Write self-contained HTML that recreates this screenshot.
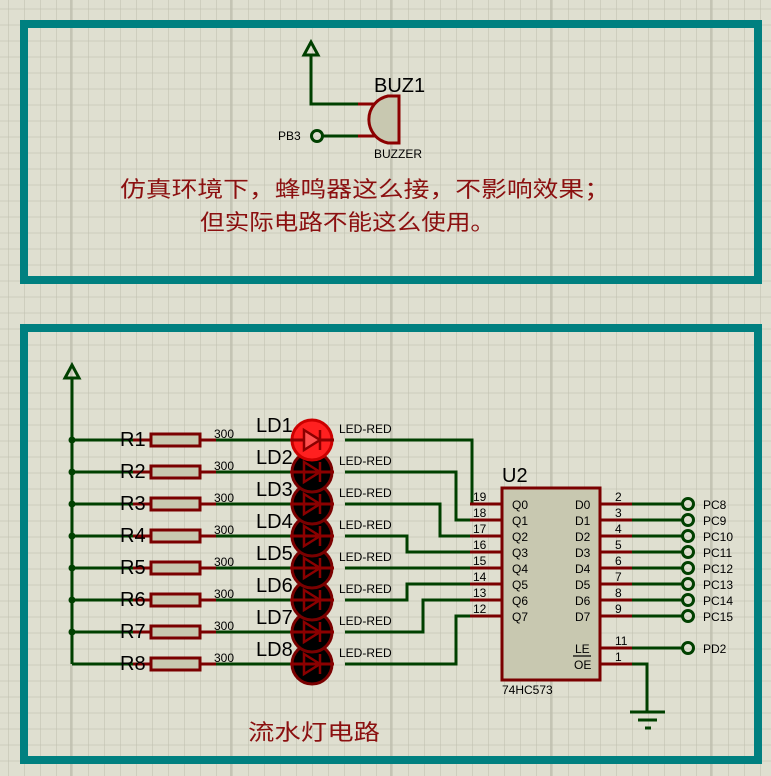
<!DOCTYPE html>
<html><head><meta charset="utf-8"><style>
html,body{margin:0;padding:0;background:#dfdfd0;}
svg{display:block;}
text{font-family:"Liberation Sans","Noto Sans CJK SC",sans-serif;}
</style></head><body>
<svg width="771" height="776" viewBox="0 0 771 776" xmlns="http://www.w3.org/2000/svg">
<defs>
<pattern id="g" x="8" y="8.7" width="16" height="16" patternUnits="userSpaceOnUse">
<path d="M0 0H16M0 0V16" stroke="#c2c2b2" stroke-width="1.2" fill="none"/>
</pattern>
<g id="led">
<circle r="20" fill="#000" stroke="#7a0000" stroke-width="3"/>
<line x1="-22" y1="0" x2="22" y2="0" stroke="#8b0000" stroke-width="3"/>
<path d="M-8 -10 L8 0 L-8 10 Z" fill="none" stroke="#8b0000" stroke-width="2.5"/>
<line x1="8" y1="-10" x2="8" y2="10" stroke="#8b0000" stroke-width="2.5"/>
</g>
</defs>
<rect width="771" height="776" fill="#dfdfd0"/>
<rect width="771" height="776" fill="url(#g)"/>
<g stroke="#bdbdad" stroke-width="1.6">
<line x1="71" y1="0" x2="71" y2="776"/><line x1="231" y1="0" x2="231" y2="776"/><line x1="391" y1="0" x2="391" y2="776"/><line x1="551" y1="0" x2="551" y2="776"/><line x1="711" y1="0" x2="711" y2="776"/>
</g>
<rect x="24" y="24" width="734" height="256" fill="none" stroke="#008080" stroke-width="8"/>
<rect x="24" y="328" width="734" height="432" fill="none" stroke="#008080" stroke-width="8"/>

<g fill="none" stroke="#004000" stroke-width="3">
<path d="M311 54 V104 H358"/>
<path d="M323 136 H358"/>
<path d="M304 55 L311 42 L318 55 Z"/>
</g>
<circle cx="317" cy="136" r="5.5" fill="none" stroke="#004000" stroke-width="3"/>
<g stroke="#8b0000" stroke-width="3" fill="none">
<path d="M358 104 H378 M358 136 H378"/>
<path d="M399 96 V143 H388 A24 24 0 0 1 388 96 Z" fill="#c8c8b0"/>
</g>
<text x="374" y="92" font-size="20">BUZ1</text>
<text x="374" y="158" font-size="12">BUZZER</text>
<text x="278" y="140" font-size="12">PB3</text>
<text x="120" y="197" font-size="22" fill="#8b1010" textLength="490" lengthAdjust="spacingAndGlyphs">仿真环境下，蜂鸣器这么接，不影响效果；</text>
<text x="200" y="230" font-size="22" fill="#8b1010" textLength="295" lengthAdjust="spacingAndGlyphs">但实际电路不能这么使用。</text>

<g fill="none" stroke="#004000" stroke-width="3">
<path d="M72 378 V664"/>
<path d="M65 378 L72 365 L79 378 Z"/>
</g>
<g fill="none" stroke="#004000" stroke-width="3">
<path d="M72 440H133M216 440H290M345 440H472V504"/>
<path d="M72 472H133M216 472H290M345 472H456V520H470"/>
<path d="M72 504H133M216 504H290M345 504H440V536H470"/>
<path d="M72 536H133M216 536H290M345 536H407V552H470"/>
<path d="M72 568H133M216 568H290M345 568H470"/>
<path d="M72 600H133M216 600H290M345 600H407V584H470"/>
<path d="M72 632H133M216 632H290M345 632H423V600H470"/>
<path d="M72 664H133M216 664H290M345 664H456V616H470"/>
</g>
<g fill="#004000">
<circle cx="72" cy="440" r="3.5"/><circle cx="72" cy="472" r="3.5"/><circle cx="72" cy="504" r="3.5"/><circle cx="72" cy="536" r="3.5"/><circle cx="72" cy="568" r="3.5"/><circle cx="72" cy="600" r="3.5"/><circle cx="72" cy="632" r="3.5"/>
</g>
<g stroke="#7a0000" stroke-width="3" fill="#c8c8b0">
<path d="M133 440H216M133 472H216M133 504H216M133 536H216M133 568H216M133 600H216M133 632H216M133 664H216" fill="none"/>
<rect x="151" y="434" width="49" height="12"/><rect x="151" y="466" width="49" height="12"/><rect x="151" y="498" width="49" height="12"/><rect x="151" y="530" width="49" height="12"/><rect x="151" y="562" width="49" height="12"/><rect x="151" y="594" width="49" height="12"/><rect x="151" y="626" width="49" height="12"/><rect x="151" y="658" width="49" height="12"/>
</g>
<use href="#led" x="312" y="664"/>
<use href="#led" x="312" y="632"/>
<use href="#led" x="312" y="600"/>
<use href="#led" x="312" y="568"/>
<use href="#led" x="312" y="536"/>
<use href="#led" x="312" y="504"/>
<use href="#led" x="312" y="472"/>
<g transform="translate(312,440)">
<circle r="20" fill="#ff2020" stroke="#cc0000" stroke-width="3"/>
<line x1="-22" y1="0" x2="22" y2="0" stroke="#8b0000" stroke-width="3"/>
<path d="M-8 -10 L8 0 L-8 10 Z" fill="#ff5050" stroke="#8b0000" stroke-width="2.5"/>
<line x1="8" y1="-10" x2="8" y2="10" stroke="#8b0000" stroke-width="2.5"/>
</g>
<g font-size="20">
<text x="120" y="446">R1</text><text x="120" y="478">R2</text><text x="120" y="510">R3</text><text x="120" y="542">R4</text><text x="120" y="574">R5</text><text x="120" y="606">R6</text><text x="120" y="638">R7</text><text x="120" y="670">R8</text>
<text x="256" y="432">LD1</text><text x="256" y="464">LD2</text><text x="256" y="496">LD3</text><text x="256" y="528">LD4</text><text x="256" y="560">LD5</text><text x="256" y="592">LD6</text><text x="256" y="624">LD7</text><text x="256" y="656">LD8</text>
</g>
<g font-size="12">
<text x="214" y="438">300</text><text x="214" y="470">300</text><text x="214" y="502">300</text><text x="214" y="534">300</text><text x="214" y="566">300</text><text x="214" y="598">300</text><text x="214" y="630">300</text><text x="214" y="662">300</text>
<text x="339" y="433">LED-RED</text><text x="339" y="465">LED-RED</text><text x="339" y="497">LED-RED</text><text x="339" y="529">LED-RED</text><text x="339" y="561">LED-RED</text><text x="339" y="593">LED-RED</text><text x="339" y="625">LED-RED</text><text x="339" y="657">LED-RED</text>
</g>

<rect x="502" y="488" width="98" height="192" fill="#c8c8b0" stroke="#7a0000" stroke-width="3"/>
<g stroke="#7a0000" stroke-width="3">
<path d="M470 504H502M470 520H502M470 536H502M470 552H502M470 568H502M470 584H502M470 600H502M470 616H502"/>
<path d="M600 504H632M600 520H632M600 536H632M600 552H632M600 568H632M600 584H632M600 600H632M600 616H632M600 648H632M600 664H632"/>
</g>
<g fill="none" stroke="#004000" stroke-width="3">
<path d="M632 504H682M632 520H682M632 536H682M632 552H682M632 568H682M632 584H682M632 600H682M632 616H682M632 648H682"/>
<path d="M632 664H647V712"/>
<path d="M630 712H665M638 720H657M645 728H651"/>
</g>
<g fill="none" stroke="#004000" stroke-width="3">
<circle cx="688" cy="504" r="5.5"/><circle cx="688" cy="520" r="5.5"/><circle cx="688" cy="536" r="5.5"/><circle cx="688" cy="552" r="5.5"/><circle cx="688" cy="568" r="5.5"/><circle cx="688" cy="584" r="5.5"/><circle cx="688" cy="600" r="5.5"/><circle cx="688" cy="616" r="5.5"/><circle cx="688" cy="648" r="5.5"/>
</g>
<text x="502" y="482" font-size="20">U2</text>
<text x="502" y="694" font-size="12">74HC573</text>
<g font-size="12">
<text x="473" y="501">19</text><text x="473" y="517">18</text><text x="473" y="533">17</text><text x="473" y="549">16</text><text x="473" y="565">15</text><text x="473" y="581">14</text><text x="473" y="597">13</text><text x="473" y="613">12</text>
<text x="512" y="509">Q0</text><text x="512" y="525">Q1</text><text x="512" y="541">Q2</text><text x="512" y="557">Q3</text><text x="512" y="573">Q4</text><text x="512" y="589">Q5</text><text x="512" y="605">Q6</text><text x="512" y="621">Q7</text>
<text x="575" y="509">D0</text><text x="575" y="525">D1</text><text x="575" y="541">D2</text><text x="575" y="557">D3</text><text x="575" y="573">D4</text><text x="575" y="589">D5</text><text x="575" y="605">D6</text><text x="575" y="621">D7</text>
<text x="575" y="653">LE</text><text x="574" y="669">OE</text>
<text x="615" y="501">2</text><text x="615" y="517">3</text><text x="615" y="533">4</text><text x="615" y="549">5</text><text x="615" y="565">6</text><text x="615" y="581">7</text><text x="615" y="597">8</text><text x="615" y="613">9</text><text x="615" y="645">11</text><text x="615" y="661">1</text>
<text x="703" y="509">PC8</text><text x="703" y="525">PC9</text><text x="703" y="541">PC10</text><text x="703" y="557">PC11</text><text x="703" y="573">PC12</text><text x="703" y="589">PC13</text><text x="703" y="605">PC14</text><text x="703" y="621">PC15</text><text x="703" y="653">PD2</text>
</g>
<line x1="573" y1="656" x2="591" y2="656" stroke="#000" stroke-width="1.2"/>
<text x="248" y="740" font-size="22" fill="#8b1010" textLength="132" lengthAdjust="spacingAndGlyphs">流水灯电路</text>
</svg>
</body></html>
